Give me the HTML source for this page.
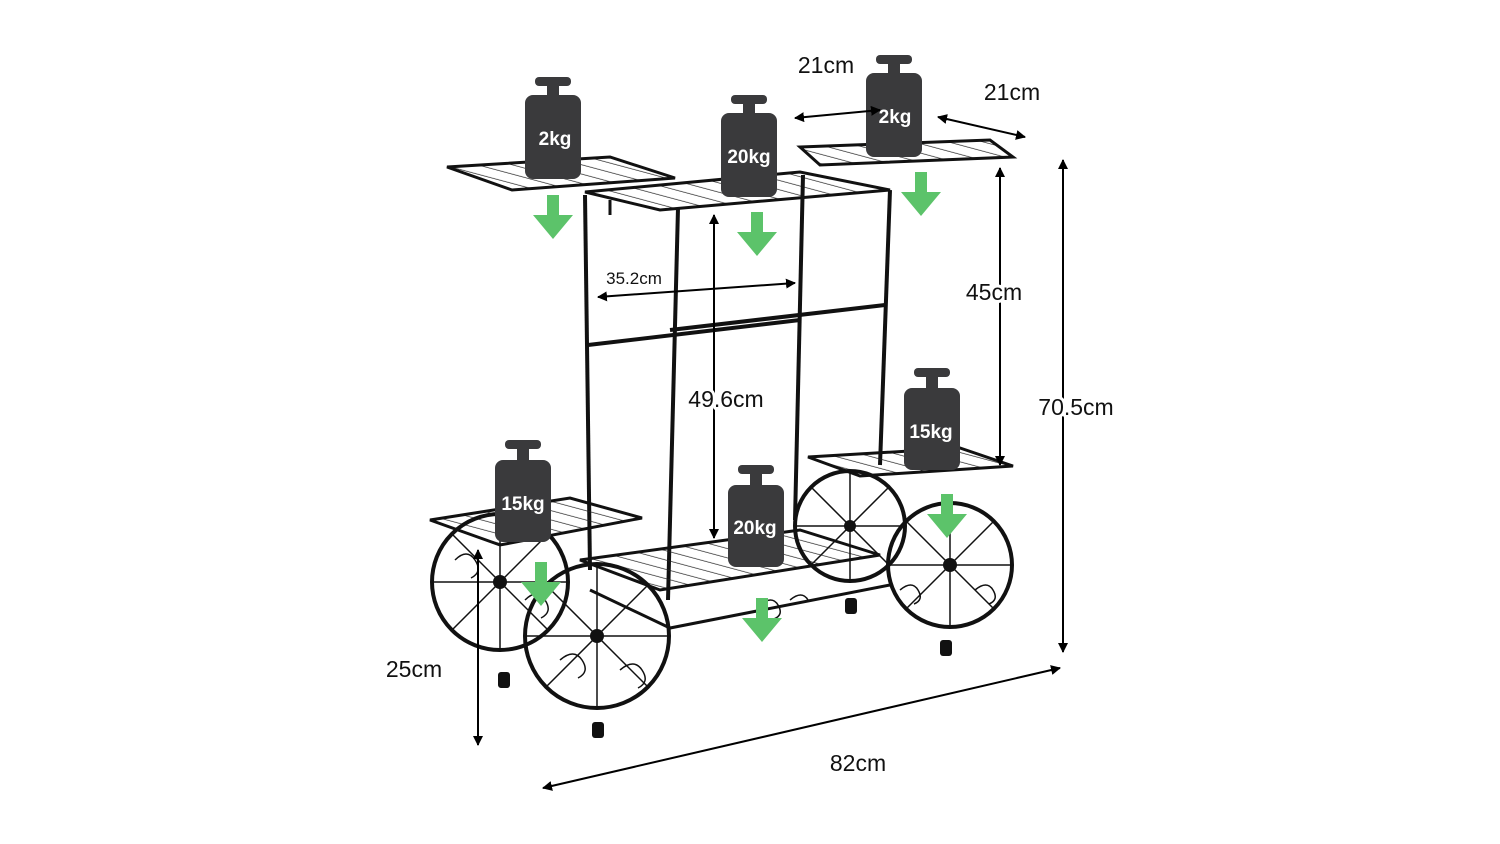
<!DOCTYPE html>
<html><head><meta charset="utf-8"><style>
html,body{margin:0;padding:0;background:#fff;width:1500px;height:844px;overflow:hidden}
svg text{font-family:"Liberation Sans",sans-serif}
</style></head><body>
<svg width="1500" height="844" viewBox="0 0 1500 844" xmlns="http://www.w3.org/2000/svg">
<defs>
<marker id="ah" markerWidth="10" markerHeight="10" refX="9" refY="5" orient="auto-start-reverse" markerUnits="userSpaceOnUse">
<path d="M0,0 L10,5 L0,10 Z" fill="#000"/></marker>
<pattern id="mesh" width="9" height="9" patternUnits="userSpaceOnUse" patternTransform="rotate(-75)">
<line x1="0" y1="0" x2="0" y2="9" stroke="#222" stroke-width="1.4"/></pattern>
<g id="garrow"><rect x="-6" y="0" width="12" height="24" fill="#5cc36a"/><path d="M-20,20 L20,20 L0,44 Z" fill="#5cc36a"/></g>
</defs>
<g fill="none" stroke="#111" stroke-width="4">
<!-- top shelves -->
<path d="M447,167 L610,157 L675,178 L512,190 Z" stroke-width="3" fill="url(#mesh)"/>
<path d="M585,192 L800,172 L890,190 L660,210 Z" stroke-width="3" fill="url(#mesh)"/>
<path d="M800,147 L990,140 L1013,157 L820,165 Z" stroke-width="3" fill="url(#mesh)"/>
<!-- posts -->
<line x1="585" y1="195" x2="590" y2="570"/>
<line x1="678" y1="208" x2="668" y2="600"/>
<line x1="803" y1="175" x2="795" y2="520"/>
<line x1="890" y1="190" x2="880" y2="465"/>
<line x1="588" y1="345" x2="800" y2="320"/>
<line x1="670" y1="330" x2="885" y2="305"/>
<line x1="610" y1="200" x2="610" y2="215" stroke-width="3"/>
<!-- lower shelves -->
<path d="M430,520 L570,498 L642,518 L500,545 Z" stroke-width="3" fill="url(#mesh)"/>
<path d="M580,560 L800,530 L880,555 L660,590 Z" stroke-width="3" fill="url(#mesh)"/>
<path d="M808,457 L960,448 L1013,466 L860,476 Z" stroke-width="3" fill="url(#mesh)"/>
<path d="M590,590 L670,628 L890,585" stroke-width="3"/>
<!-- wheels -->
<circle cx="500" cy="582" r="68"/>
<circle cx="597" cy="636" r="72"/>
<circle cx="850" cy="526" r="55"/>
<circle cx="950" cy="565" r="62"/>
<g stroke-width="1.5">
<path d="M500,514V650M432,582H568M452,534L548,630M548,534L452,630"/>
<path d="M597,564V708M525,636H669M546,585L648,687M648,585L546,687"/>
<path d="M850,471V581M795,526H905M811,487L889,565M889,487L811,565"/>
<path d="M950,503V627M888,565H1012M906,521L994,609M994,521L906,609"/>
<path d="M455,560q12,-12 20,0q8,12 -4,18M525,600q12,-12 20,0q8,12 -4,18M560,660q14,-12 22,0q8,12 -4,18M620,670q14,-12 22,0q8,12 -4,18M900,590q12,-10 18,0q6,10 -4,14M975,590q12,-10 18,0q6,10 -4,14M760,605q12,-10 18,0q6,10 -4,14M790,600q12,-10 18,0"/>
</g>
</g>
<g fill="#111">
<circle cx="500" cy="582" r="7"/><circle cx="597" cy="636" r="7"/><circle cx="850" cy="526" r="6"/><circle cx="950" cy="565" r="7"/>
<rect x="498" y="672" width="12" height="16" rx="3"/><rect x="592" y="722" width="12" height="16" rx="3"/>
<rect x="845" y="598" width="12" height="16" rx="3"/><rect x="940" y="640" width="12" height="16" rx="3"/>
</g>
<!-- weights -->
<g fill="#3a3a3c">
<g transform="translate(553,77)"><rect x="-18" y="0" width="36" height="9" rx="4"/><rect x="-6" y="8" width="12" height="12"/><rect x="-28" y="18" width="56" height="84" rx="8"/></g>
<g transform="translate(749,95)"><rect x="-18" y="0" width="36" height="9" rx="4"/><rect x="-6" y="8" width="12" height="12"/><rect x="-28" y="18" width="56" height="84" rx="8"/></g>
<g transform="translate(894,55)"><rect x="-18" y="0" width="36" height="9" rx="4"/><rect x="-6" y="8" width="12" height="12"/><rect x="-28" y="18" width="56" height="84" rx="8"/></g>
<g transform="translate(932,368)"><rect x="-18" y="0" width="36" height="9" rx="4"/><rect x="-6" y="8" width="12" height="14"/><rect x="-28" y="20" width="56" height="82" rx="8"/></g>
<g transform="translate(523,440)"><rect x="-18" y="0" width="36" height="9" rx="4"/><rect x="-6" y="8" width="12" height="14"/><rect x="-28" y="20" width="56" height="82" rx="8"/></g>
<g transform="translate(756,465)"><rect x="-18" y="0" width="36" height="9" rx="4"/><rect x="-6" y="8" width="12" height="14"/><rect x="-28" y="20" width="56" height="82" rx="8"/></g>
</g>
<g fill="#fff" font-size="19" text-anchor="middle" font-weight="bold">
<text x="555" y="145">2kg</text><text x="749" y="163">20kg</text><text x="895" y="123">2kg</text>
<text x="931" y="438">15kg</text><text x="523" y="510">15kg</text><text x="755" y="534">20kg</text>
</g>
<!-- green arrows -->
<use href="#garrow" x="553" y="195"/><use href="#garrow" x="757" y="212"/><use href="#garrow" x="921" y="172"/>
<use href="#garrow" x="947" y="494"/><use href="#garrow" x="541" y="562"/><use href="#garrow" x="762" y="598"/>
<!-- dimensions -->
<g stroke="#000" stroke-width="2" marker-start="url(#ah)" marker-end="url(#ah)">
<line x1="795" y1="118" x2="880" y2="110"/>
<line x1="938" y1="117" x2="1025" y2="137"/>
<line x1="1000" y1="168" x2="1000" y2="465"/>
<line x1="1063" y1="160" x2="1063" y2="652"/>
<line x1="543" y1="788" x2="1060" y2="668"/>
<line x1="478" y1="550" x2="478" y2="745"/>
<line x1="714" y1="215" x2="714" y2="538"/>
<line x1="598" y1="297" x2="795" y2="283"/>
</g>
<g fill="#111" font-size="23" text-anchor="middle" stroke="#fff" stroke-width="6" paint-order="stroke" stroke-linejoin="round">
<text x="826" y="73">21cm</text><text x="1012" y="100">21cm</text><text x="994" y="300">45cm</text>
<text x="1076" y="415">70.5cm</text><text x="858" y="771">82cm</text><text x="414" y="677">25cm</text>
<text x="726" y="407">49.6cm</text><text x="634" y="284" font-size="17" stroke-width="4">35.2cm</text>
</g>
</svg>
</body></html>
